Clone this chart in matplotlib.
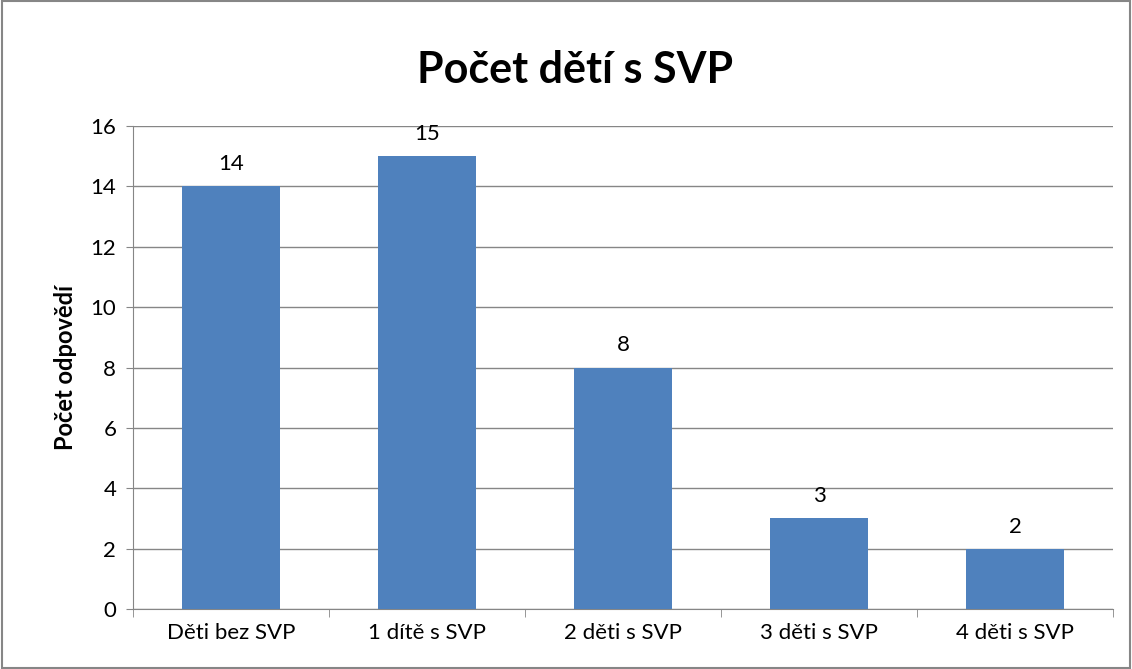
import matplotlib
matplotlib.use("Agg")
import matplotlib.pyplot as plt
from matplotlib.patches import Rectangle

categories = ["Děti bez SVP", "1 dítě s SVP", "2 děti s SVP", "3 děti s SVP", "4 děti s SVP"]
values = [14, 15, 8, 3, 2]
yticks = [0, 2, 4, 6, 8, 10, 12, 14, 16]

plt.rcParams['font.family'] = ['Lato', 'DejaVu Sans']

fig = plt.figure(figsize=(11.32, 6.69), dpi=100)
ax = fig.add_axes([133/1132, 1-609/669, 980/1132, 483/669])

x = list(range(len(categories)))
ax.bar(x, values, width=0.5, color='#4F81BD', zorder=3)
for xi, v in zip(x, values):
    ax.text(xi, v + 0.4, str(v), ha='center', va='bottom', fontsize=16, color='black')

ax.set_xlim(-0.5, len(categories) - 0.5)
ax.set_ylim(0, 16)
ax.set_yticks(yticks)
ax.set_yticklabels([str(t) for t in yticks], fontsize=16)
ax.set_xticks(x)
ax.set_xticklabels(categories, fontsize=16)
ax.tick_params(axis='x', length=0, pad=10)
ax.set_xticks([i - 0.5 for i in range(len(categories) + 1)], minor=True)
ax.tick_params(axis='x', which='minor', length=6, color='#868686', direction='out')
ax.tick_params(axis='y', length=5, color='#868686', direction='out', pad=7)

ax.grid(axis='y', color='#868686', linewidth=1, zorder=0)
for s in ['top', 'right']:
    ax.spines[s].set_visible(False)
for s in ['left', 'bottom']:
    ax.spines[s].set_color('#868686')

ax.set_ylabel("Počet odpovědí", fontsize=17, fontweight='bold', labelpad=10)
fig.text(575/1132, 1-70/669, "Počet dětí s SVP", ha='center', va='center', fontsize=31, fontweight='bold')

fig.patches.append(Rectangle((0.002, 0.002), 0.996, 0.996, transform=fig.transFigure,
                             fill=False, edgecolor='#868686', linewidth=1.5))

fig.savefig("out.png", dpi=100)
